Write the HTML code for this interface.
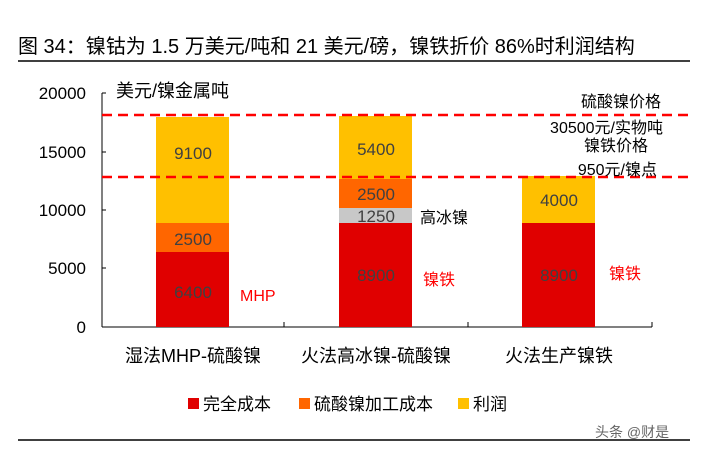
<!DOCTYPE html><html><head><meta charset="utf-8"><style>body{margin:0;background:#fff}svg text{font-family:"Liberation Sans","Noto Sans CJK SC",sans-serif}</style></head><body>
<svg width="702" height="454" viewBox="0 0 702 454" xmlns="http://www.w3.org/2000/svg">
<text x="18" y="53" font-size="20" fill="#000">图 34：镍钴为 1.5 万美元/吨和 21 美元/磅，镍铁折价 86%时利润结构</text>
<line x1="18" y1="61" x2="690" y2="61" stroke="#000" stroke-width="1.5"/>
<line x1="18" y1="440" x2="690" y2="440" stroke="#000" stroke-width="1.5"/>
<g font-size="17" fill="#000" text-anchor="end">
<text x="86" y="99">20000</text><text x="86" y="158">15000</text><text x="86" y="216">10000</text><text x="86" y="274">5000</text><text x="86" y="333">0</text></g>
<text x="116" y="97" font-size="18">美元/镍金属吨</text>
<g stroke="#000" stroke-width="1"><line x1="102" y1="93" x2="102" y2="327"/><line x1="102" y1="327" x2="652" y2="327"/>
<line x1="102" y1="93" x2="106" y2="93"/><line x1="102" y1="152" x2="106" y2="152"/><line x1="102" y1="210" x2="106" y2="210"/><line x1="102" y1="268" x2="106" y2="268"/>
<line x1="284" y1="327" x2="284" y2="322"/><line x1="468" y1="327" x2="468" y2="322"/><line x1="652" y1="327" x2="652" y2="322"/></g>
<rect x="156" y="252" width="73" height="75" fill="#e00000"/><rect x="156" y="223" width="73" height="29" fill="#ff6600"/><rect x="156" y="117" width="73" height="106" fill="#ffc000"/>
<rect x="339" y="223" width="73" height="104" fill="#e00000"/><rect x="339" y="208" width="73" height="15" fill="#c8c8c8"/><rect x="339" y="179" width="73" height="29" fill="#ff6600"/><rect x="339" y="116" width="73" height="63" fill="#ffc000"/>
<rect x="522" y="223" width="73" height="104" fill="#e00000"/><rect x="522" y="176" width="73" height="47" fill="#ffc000"/>
<line x1="102" y1="115" x2="690" y2="115" stroke="#ff0000" stroke-width="2.5" stroke-dasharray="10,6"/>
<line x1="102" y1="177" x2="690" y2="177" stroke="#ff0000" stroke-width="2.5" stroke-dasharray="10,6"/>
<g font-size="17" fill="#404040" text-anchor="middle">
<text x="193" y="159">9100</text><text x="193" y="245">2500</text><text x="193" y="298">6400</text>
<text x="376" y="155">5400</text><text x="376" y="200">2500</text><text x="376" y="222">1250</text><text x="376" y="281">8900</text>
<text x="559" y="206">4000</text><text x="559" y="281">8900</text></g>
<g font-size="16" fill="#ff0000"><text x="240" y="301">MHP</text><text x="423" y="285">镍铁</text><text x="609" y="279">镍铁</text></g>
<text x="420" y="223" font-size="16" fill="#000">高冰镍</text>
<g font-size="16" fill="#000" text-anchor="end"><text x="661" y="107">硫酸镍价格</text><text x="663" y="133">30500元/实物吨</text><text x="648" y="151">镍铁价格</text><text x="657" y="175">950元/镍点</text></g>
<g font-size="18" fill="#000" text-anchor="middle"><text x="193" y="362">湿法MHP-硫酸镍</text><text x="376" y="362">火法高冰镍-硫酸镍</text><text x="559" y="362">火法生产镍铁</text></g>
<rect x="188" y="398" width="11" height="11" fill="#e00000"/><text x="203" y="410" font-size="17">完全成本</text>
<rect x="299" y="398" width="11" height="11" fill="#ff6600"/><text x="314" y="410" font-size="17">硫酸镍加工成本</text>
<rect x="458" y="398" width="11" height="11" fill="#ffc000"/><text x="473" y="410" font-size="17">利润</text>
<text x="595" y="437" font-size="14" fill="#666">头条 @财是</text>
</svg></body></html>
